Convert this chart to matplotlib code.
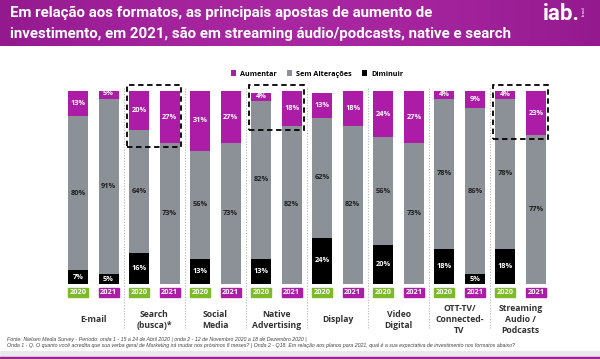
import numpy as np
import matplotlib.pyplot as plt
from matplotlib.patches import Rectangle

# dados (ordem: 2020, 2021 para cada formato)
categories = ['E-mail', 'Search\n(busca)*', 'Social\nMedia', 'Native\nAdvertising',
              'Display', 'Video\nDigital', 'OTT-TV/\nConnected-\nTV', 'Streaming\nAudio /\nPodcasts']
years = ['2020', '2021']
aumentar = [13, 5, 20, 27, 31, 27, 4, 18, 13, 18, 24, 27, 4, 9, 4, 23]
sem_alt = [80, 91, 64, 73, 56, 73, 82, 82, 62, 82, 56, 73, 78, 86, 78, 77]
diminuir = [7, 5, 16, 0, 13, 0, 13, 0, 24, 0, 20, 0, 18, 5, 18, 0]
highlight = [1, 3, 7]  # Search, Native, Streaming

MAG = '#ad1ca6'
GRAY = '#8b9196'
BLACK = '#000000'
GREEN = '#7dba2a'

W, H = 600, 359
fig = plt.figure(figsize=(6, 3.59), dpi=100)
fig.patch.set_facecolor('white')

# faixa do titulo
hax = fig.add_axes([0, 1 - 46 / H, 1, 46 / H])
grad = np.linspace(0, 1, 256)
cols = np.array([[0.58, 0.10, 0.56], [0.66, 0.15, 0.63]])
img = cols[0] + (cols[1] - cols[0]) * np.sin(grad * np.pi)[:, None]
hax.imshow(img[None, :, :], aspect='auto', extent=[0, 1, 0, 1])
hax.set_axis_off()
title_font = ['Liberation Sans Narrow', 'Roboto', 'DejaVu Sans']
fig.text(10 / W, 1 - 13 / H, 'Em relação aos formatos, as principais apostas de aumento de',
         color='white', fontsize=10.8, fontweight='bold', family=title_font, va='center')
fig.text(10 / W, 1 - 34 / H, 'investimento, em 2021, são em streaming áudio/podcasts, native e search',
         color='white', fontsize=10.8, fontweight='bold', family=title_font, va='center')
fig.text(561 / W, 1 - 14 / H, 'iab.', color='white', fontsize=16, fontweight='bold',
         family=['Roboto', 'DejaVu Sans'], ha='center', va='center')
fig.text(584 / W, 1 - 11 / H, 'brasil', color='white', fontsize=3, rotation=90,
         family=['Roboto', 'DejaVu Sans'], ha='center', va='center')

# faixas de rodape
fax = fig.add_axes([0, 0, 1, 8 / H])
fax.set_xlim(0, 1)
fax.set_ylim(0, 8)
fax.add_patch(Rectangle((0, 2), 1, 6, color='#e9e9e9'))
fax.add_patch(Rectangle((0, 0), 1, 2, color='#a0209b'))
fax.set_axis_off()

# graficos de barras
x0, dx = 78, 30.53
left = (x0 - dx / 2) / W
ax = fig.add_axes([left, 75 / H, 16 * dx / W, 193 / H])
n = len(aumentar)
x = np.arange(n)
bw = 20 / dx
dim = np.array(diminuir)
sem = np.array(sem_alt)
aum = np.array(aumentar)
ax.bar(x, dim, bw, color=BLACK, label='Diminuir')
ax.bar(x, sem, bw, bottom=dim, color=GRAY, label='Sem Alterações')
ax.bar(x, aum, bw, bottom=dim + sem, color=MAG, label='Aumentar')
ax.set_xlim(-0.5, n - 0.5)
ax.set_ylim(0, 100)
ax.set_axis_off()

lab_font = ['Open Sans', 'DejaVu Sans']
for i in range(n):
    if dim[i]:
        ax.text(i, dim[i] / 2, f'{dim[i]}%', ha='center', va='center', color='white',
                fontsize=5.3, fontweight='bold', family=lab_font)
    ax.text(i, dim[i] + sem[i] / 2, f'{sem[i]}%', ha='center', va='center', color='#1e1e1e',
            fontsize=5.3, fontweight='bold', family=lab_font)
    ax.text(i, dim[i] + sem[i] + aum[i] / 2, f'{aum[i]}%', ha='center', va='center', color='white',
            fontsize=5.3, fontweight='bold', family=lab_font)
    # rotulo do ano
    yc = GREEN if i % 2 == 0 else MAG
    ax.add_patch(Rectangle((i - bw / 2, -6.8), bw, 4.9, color=yc, clip_on=False))
    ax.text(i, -4.35, years[i % 2], ha='center', va='center', color='white',
            fontsize=5.4, fontweight='bold', family=lab_font, clip_on=False)

# separadores pontilhados
for g in range(1, len(categories)):
    ax.plot([2 * g - 0.5] * 2, [101.5, -23.5], color='#b5b5b5', lw=0.8, ls=(0, (1, 1.5)),
            clip_on=False)

# nomes das categorias
for g, cat in enumerate(categories):
    ax.text(2 * g + 0.5, -18.6, cat, ha='center', va='center', color='#333333',
            fontsize=6.2, fontweight='bold', family=lab_font, linespacing=1.3, clip_on=False)

# caixas tracejadas
for g in highlight:
    top_a = max(aum[2 * g], aum[2 * g + 1])
    ybot = 100 - top_a - 2
    ax.add_patch(Rectangle((2 * g - 0.395, ybot), 1.785, 103.1 - ybot, fill=False,
                           ec='black', lw=1.3, ls=(0, (3, 2)), clip_on=False))

# legenda
h, l = ax.get_legend_handles_labels()
fig.legend(h[::-1], l[::-1], loc='center', bbox_to_anchor=(317 / W, 1 - 74 / H), ncol=3,
           frameon=False, handlelength=0.7, handleheight=0.7,
           columnspacing=1.5, handletextpad=0.5,
           prop={'family': lab_font, 'size': 5.2, 'weight': 'bold'})

# fontes
foot = ['Fonte: Nielsen Media Survey - Período: onda 1 - 15 a 24 de Abril 2020 | onda 2 - 12 de Novembro 2020 a 18 de Dezembro 2020 |',
        'Onda 1 - Q. O quanto você acredita que sua verba geral de Marketing irá mudar nos próximos 6 meses? | Onda 2 - Q18. Em relação aos planos para 2021, qual é a sua expectativa de investimento nos formatos abaixo?']
fig.text(7 / W, 1 - 339 / H, foot[0], fontsize=3.8, style='italic', color='#444444',
         family=['Liberation Sans', 'DejaVu Sans'], va='center')
fig.text(7 / W, 1 - 346 / H, foot[1], fontsize=3.8, style='italic', color='#444444',
         family=['Liberation Sans', 'DejaVu Sans'], va='center')

fig.savefig('out.png', dpi=100)
